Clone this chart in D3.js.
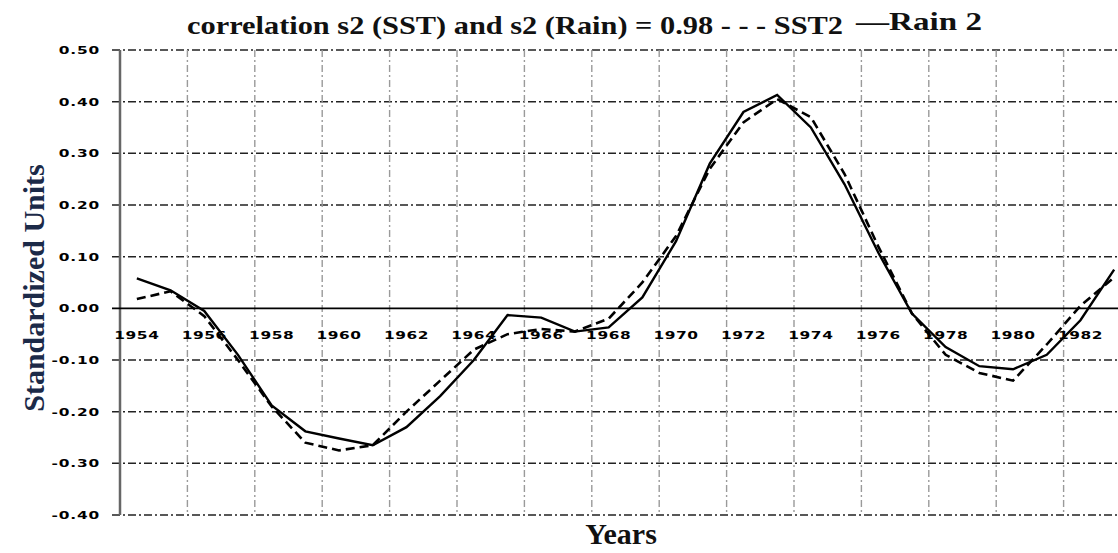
<!DOCTYPE html>
<html><head><meta charset="utf-8">
<script src="https://cdn.jsdelivr.net/npm/d3@7"></script>
<style>body{margin:0;background:#fff}svg{display:block}</style>
</head><body>
<svg id="c" width="1118" height="553"></svg>
<script>
const years = d3.range(1954, 1984);
const rain2 = [0.058,0.035,-0.005,-0.09,-0.188,-0.238,-0.252,-0.265,-0.23,-0.17,-0.10,-0.013,-0.018,-0.045,-0.037,0.021,0.13,0.28,0.38,0.413,0.35,0.24,0.108,-0.01,-0.075,-0.112,-0.118,-0.09,-0.023,0.075];
const sst2 = [0.018,0.033,-0.015,-0.10,-0.19,-0.26,-0.275,-0.265,-0.20,-0.14,-0.08,-0.05,-0.04,-0.045,-0.02,0.05,0.14,0.27,0.36,0.405,0.37,0.26,0.12,-0.01,-0.09,-0.125,-0.14,-0.07,0.005,0.06];
const yTicks = [0.5,0.4,0.3,0.2,0.1,0,-0.1,-0.2,-0.3,-0.4];
const xLabelYears = d3.range(1954, 1984, 2);
const titleMain = "correlation s2  (SST) and s2  (Rain) = 0.98 - - - SST2";
const titleLegend = "\u2014Rain 2";

const svg = d3.select("#c");
const x = d3.scaleBand().domain(years).range([120, 1131]).padding(0);
const y = d3.scaleLinear().domain([-0.4, 0.5]).range([515, 50]);
const cx = d => x(d) + x.bandwidth() / 2;

// horizontal gridlines
svg.append("g").selectAll("line").data(yTicks.filter(v => v !== 0)).join("line")
  .attr("x1", 112).attr("x2", 1131).attr("y1", d => y(d)).attr("y2", d => y(d))
  .attr("stroke", "#222").attr("stroke-width", 1.5).attr("stroke-dasharray", "8,3,2,3");
// vertical gridlines
svg.append("g").selectAll("line").data(xLabelYears.slice(1)).join("line")
  .attr("x1", d => x(d)).attr("x2", d => x(d))
  .attr("y1", y(0.5)).attr("y2", y(-0.4))
  .attr("stroke", "#9a9a9a").attr("stroke-width", 1.4).attr("stroke-dasharray", "7,3,2,3");
// y axis line
svg.append("line").attr("x1", 120).attr("x2", 120).attr("y1", y(0.5)).attr("y2", y(-0.4))
  .attr("stroke", "#666").attr("stroke-width", 2.5);
// zero line
svg.append("line").attr("x1", 112).attr("x2", 1131).attr("y1", y(0)).attr("y2", y(0))
  .attr("stroke", "#000").attr("stroke-width", 1.6);

// y tick labels
const fmt = v => d3.format(".2f")(v).replace("\u2212", "-");
svg.append("g").selectAll("text").data(yTicks).join("text")
  .attr("transform", d => `translate(100,${y(d)}) scale(1.4,1)`)
  .attr("dy", "0.35em").attr("text-anchor", "end")
  .attr("font-family", "DejaVu Sans").attr("font-weight", "bold").attr("font-size", 11)
  .attr("letter-spacing", 0.6).text(fmt);
// x tick labels
svg.append("g").selectAll("text").data(xLabelYears).join("text")
  .attr("transform", d => `translate(${cx(d)},335) scale(1.4,1)`)
  .attr("dy", "0.35em").attr("text-anchor", "middle")
  .attr("font-family", "DejaVu Sans").attr("font-weight", "bold").attr("font-size", 11)
  .attr("letter-spacing", 0.4).text(d => d);

// series
const line = d3.line().x((d, i) => cx(years[i])).y(d => y(d));
svg.append("path").datum(sst2).attr("d", line).attr("fill", "none")
  .attr("stroke", "#000").attr("stroke-width", 2.6).attr("stroke-dasharray", "9,5");
svg.append("path").datum(rain2).attr("d", line).attr("fill", "none")
  .attr("stroke", "#000").attr("stroke-width", 2.4);

// title
svg.append("text").attr("x", 187).attr("y", 34)
  .attr("font-family", "Liberation Serif").attr("font-weight", "bold").attr("font-size", 26).attr("fill", "#111")
  .attr("textLength", 656).attr("lengthAdjust", "spacingAndGlyphs").text(titleMain);
svg.append("text").attr("x", 856).attr("y", 30)
  .attr("font-family", "Liberation Serif").attr("font-weight", "bold").attr("font-size", 26).attr("fill", "#111")
  .attr("textLength", 126).attr("lengthAdjust", "spacingAndGlyphs").text(titleLegend);

// axis titles
svg.append("text").attr("transform", "translate(44,288) rotate(-90)").attr("text-anchor", "middle")
  .attr("font-family", "Liberation Serif").attr("font-weight", "bold").attr("font-size", 30)
  .attr("fill", "#1c2a48").text("Standardized Units");
svg.append("text").attr("x", 621).attr("y", 544).attr("text-anchor", "middle")
  .attr("font-family", "Liberation Serif").attr("font-weight", "bold").attr("font-size", 30)
  .attr("fill", "#111").text("Years");
</script>
</body></html>
